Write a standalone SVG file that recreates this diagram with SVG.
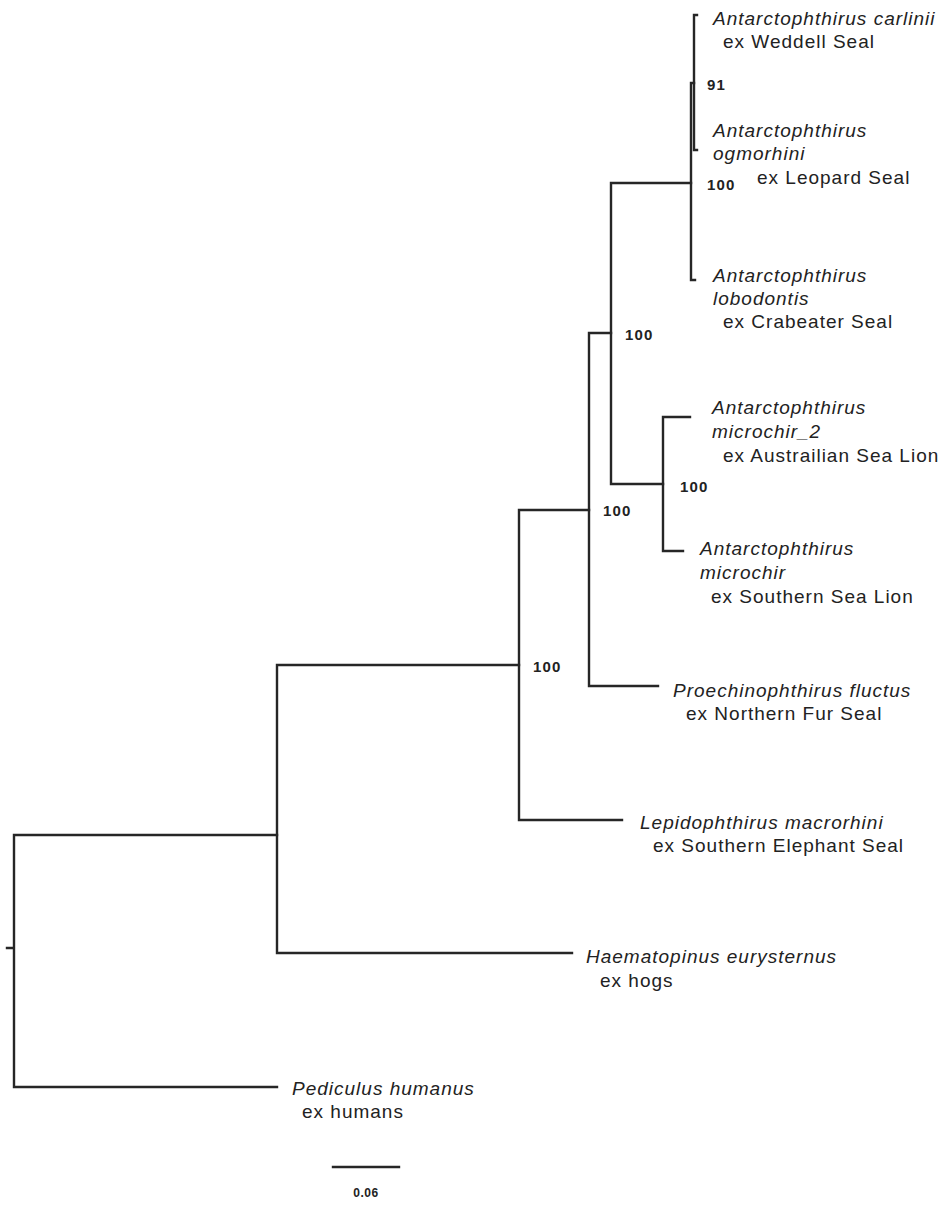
<svg xmlns="http://www.w3.org/2000/svg" width="945" height="1221" viewBox="0 0 945 1221">
<style>
.br{fill:none;stroke:#262626;stroke-width:2.4;stroke-linecap:square}
.sp{font-family:"Liberation Sans",Arial,sans-serif;font-size:19px;font-style:italic;fill:#222;letter-spacing:1px}
.hs{font-family:"Liberation Sans",Arial,sans-serif;font-size:19px;fill:#222;letter-spacing:1px}
.bs{font-family:"Liberation Sans",Arial,sans-serif;font-size:15px;font-weight:bold;fill:#222;letter-spacing:1.2px}
.sc{font-family:"Liberation Sans",Arial,sans-serif;font-size:12px;font-weight:bold;fill:#222;text-anchor:middle;letter-spacing:0.5px}
</style>
<rect width="945" height="1221" fill="#fff"/>
<g id="connectors">
<path class="br" d="M7,948 H14 M14,835 V1087 M14,835 H277 M14,1087 H277"/>
<path class="br" d="M277,665 V953 M277,665 H519 M277,953 H572"/>
<path class="br" d="M519,510 V820 M519,510 H589 M519,820 H622"/>
<path class="br" d="M589,333 V686 M589,333 H611 M589,686 H658"/>
<path class="br" d="M611,183 V484 M611,183 H691 M611,484 H663"/>
<path class="br" d="M663,417 V551 M663,417 H690 M663,551 H683"/>
<path class="br" d="M691,83 V280 M691,280 H695 M691,83 H694"/>
<path class="br" d="M694,15 V150 M694,15 H697 M694,150 H697"/>
</g>
<g id="support">
<text class="bs" x="707" y="90">91</text>
<text class="bs" x="707" y="190">100</text>
<text class="bs" x="625" y="340">100</text>
<text class="bs" x="680" y="492">100</text>
<text class="bs" x="603" y="516">100</text>
<text class="bs" x="533" y="672">100</text>
</g>
<g id="carlinii"><text class="sp" x="713" y="25">Antarctophthirus carlinii</text><text class="hs" x="723" y="48">ex Weddell Seal</text></g>
<g id="ogmorhini"><text class="sp" x="713" y="137">Antarctophthirus</text><text class="sp" x="713" y="160">ogmorhini</text><text class="hs" x="757" y="184">ex Leopard Seal</text></g>
<g id="lobodontis"><text class="sp" x="713" y="282">Antarctophthirus</text><text class="sp" x="713" y="305">lobodontis</text><text class="hs" x="723" y="328">ex Crabeater Seal</text></g>
<g id="microchir2"><text class="sp" x="712" y="414">Antarctophthirus</text><text class="sp" x="712" y="438">microchir_2</text><text class="hs" x="723" y="462">ex Austrailian Sea Lion</text></g>
<g id="microchir"><text class="sp" x="700" y="555">Antarctophthirus</text><text class="sp" x="700" y="579">microchir</text><text class="hs" x="711" y="603">ex Southern Sea Lion</text></g>
<g id="proechinophthirus"><text class="sp" x="673" y="697">Proechinophthirus fluctus</text><text class="hs" x="686" y="720">ex Northern Fur Seal</text></g>
<g id="lepidophthirus"><text class="sp" x="640" y="829">Lepidophthirus macrorhini</text><text class="hs" x="653" y="852">ex Southern Elephant Seal</text></g>
<g id="haematopinus"><text class="sp" x="586" y="963">Haematopinus eurysternus</text><text class="hs" x="600" y="987">ex hogs</text></g>
<g id="pediculus"><text class="sp" x="292" y="1095">Pediculus humanus</text><text class="hs" x="302" y="1118">ex humans</text></g>
<g id="scalebar">
<path class="br" d="M333,1167 H399"/>
<text class="sc" x="366" y="1197">0.06</text>
</g>
</svg>
